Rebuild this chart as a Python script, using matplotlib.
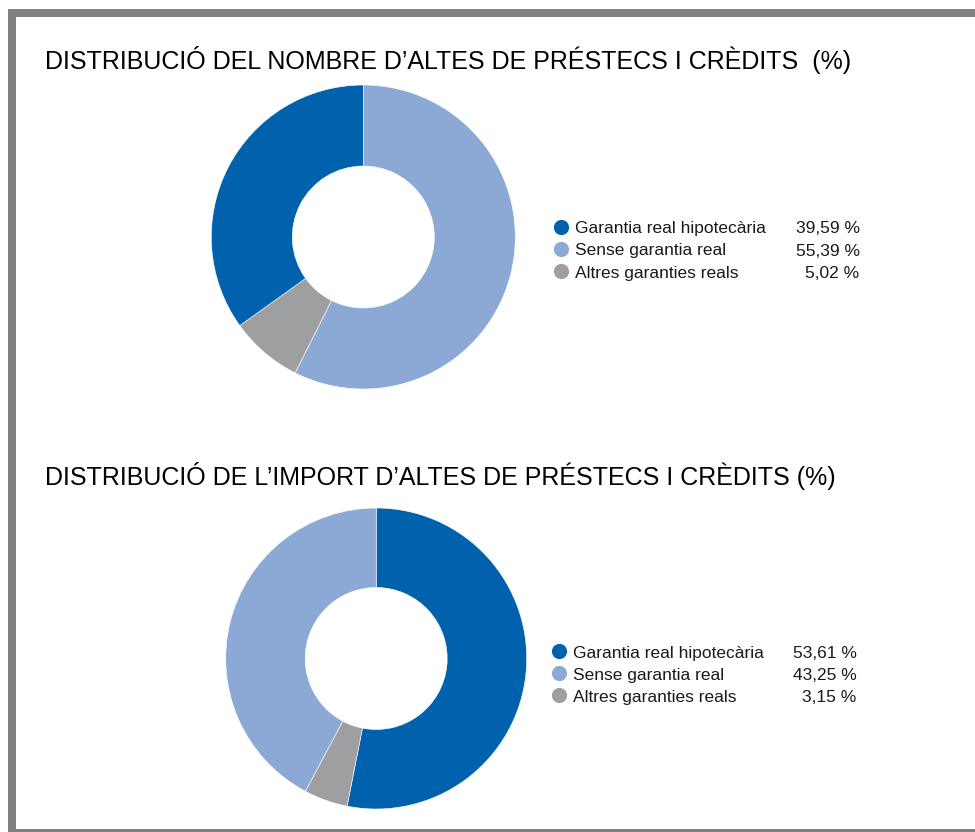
import matplotlib
matplotlib.use("Agg")
import matplotlib.pyplot as plt
from matplotlib.patches import Rectangle

plt.rcParams['font.family'] = ['Liberation Sans', 'DejaVu Sans']

# ---- data ----
categories = ["Garantia real hipotecària", "Sense garantia real", "Altres garanties reals"]
colors = ["#0062ad", "#8ca9d5", "#9d9fa1"]

title_1 = "DISTRIBUCIÓ DEL NOMBRE D’ALTES DE PRÉSTECS I CRÈDITS  (%)"
legend_values_1 = ["39,59 %", "55,39 %", "5,02 %"]
# slice shares as drawn in the reference donut (hipotecària, sense, altres)
shares_1 = [34.9, 57.4, 7.7]
order_1 = [1, 2, 0]  # clockwise from 12 o'clock

title_2 = "DISTRIBUCIÓ DE L’IMPORT D’ALTES DE PRÉSTECS I CRÈDITS (%)"
legend_values_2 = ["53,61 %", "43,25 %", "3,15 %"]
shares_2 = [53.1, 42.2, 4.7]
order_2 = [0, 2, 1]

W, H = 975, 832
fig = plt.figure(figsize=(W / 100, H / 100), dpi=100)
fig.patch.set_facecolor("white")

# overlay axes in pixel coordinates
ov = fig.add_axes([0, 0, 1, 1])
ov.set_xlim(0, W)
ov.set_ylim(H, 0)
ov.axis("off")

frame_c = "#808080"
ov.add_patch(Rectangle((8, 9), W - 8, 7.5, color=frame_c, lw=0))
ov.add_patch(Rectangle((8, 9), 8, H - 9, color=frame_c, lw=0))
ov.add_patch(Rectangle((8, 829), W - 8, 3, color=frame_c, lw=0))


def donut(cx, cy, r, r_in, shares, order):
    ax = fig.add_axes([(cx - r) / W, 1 - (cy + r) / H, 2 * r / W, 2 * r / H])
    vals = [shares[i] for i in order]
    cols = [colors[i] for i in order]
    ax.pie(vals, colors=cols, startangle=90, counterclock=False, radius=1,
           wedgeprops=dict(width=1 - r_in / r, edgecolor="white", linewidth=0.4))
    ax.set_xlim(-1, 1)
    ax.set_ylim(-1, 1)
    ax.set_aspect("equal")
    ax.axis("off")


def legend(x_marker, x_text, x_val, y0, values):
    for i, (cat, val) in enumerate(zip(categories, values)):
        yc = y0 + i * 22.2
        ov.scatter([x_marker], [yc], s=120, color=colors[i], zorder=5, linewidths=0)
        ov.text(x_text, yc + 6.6, cat, fontsize=12.5, color="#1a1a1a",
                ha="left", va="baseline")
        ov.text(x_val, yc + 6.6, val, fontsize=12.5, color="#1a1a1a",
                ha="right", va="baseline")


ov.text(45, 68.5, title_1, fontsize=18.0, color="black", ha="left", va="baseline")
donut(363.3, 237, 152, 71, shares_1, order_1)
legend(561, 575, 859.5, 226.7, legend_values_1)

ov.text(45, 485, title_2, fontsize=18.0, color="black", ha="left", va="baseline")
donut(376.2, 658.5, 150.5, 71, shares_2, order_2)
legend(559, 573.3, 856.5, 651, legend_values_2)

fig.savefig("out.png", dpi=100, facecolor="white")
